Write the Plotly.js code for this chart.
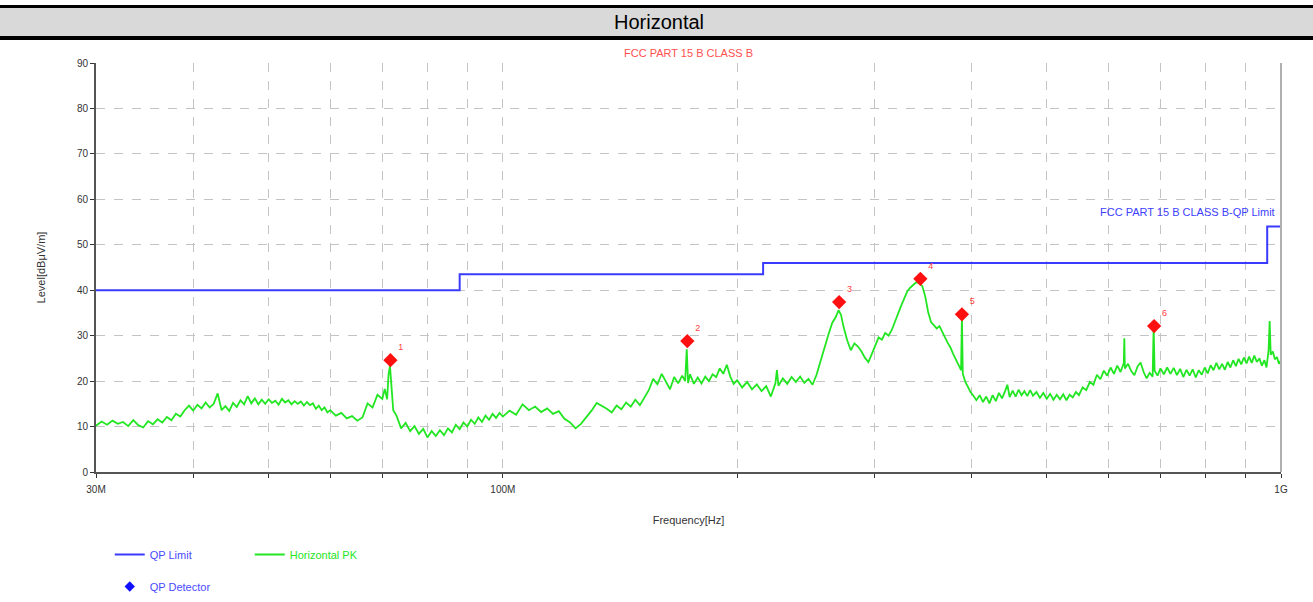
<!DOCTYPE html>
<html>
<head>
<meta charset="utf-8">
<script src="https://cdn.plot.ly/plotly-3.0.1.min.js"></script>
<style>
html,body{margin:0;padding:0;background:#fff;}
#chart{width:1313px;height:602px;}
</style>
</head>
<body>
<div id="chart"></div>
<script>
// Frequencies in MHz
const pkFreq = [
30.0,30.5,31.0,31.5,32.0,32.5,33.0,33.5,34.0,34.5,35.0,35.5,36.0,36.5,37.0,37.5,38.0,38.5,39.0,39.5,
40.0,40.5,41.0,41.5,42.0,42.5,43.0,43.5,44.0,44.5,45.0,45.5,46.0,46.5,47.0,47.5,48.0,48.5,49.0,49.5,
50.0,50.5,51.0,51.5,52.0,52.5,53.0,53.5,54.0,54.5,55.0,55.5,56.0,56.5,57.0,57.5,58.0,58.5,59.0,59.5,60.0,
61,62,63,64,65,66,67,68,69,70,70.5,71.0,71.3,71.6,71.9,72.3,73,74,75,76,77,78,79,80,81,82,83,84,85,86,87,88,89,90,
91,92,93,94,95,96,97,98,99,100,
102,104,106,108,110,112,114,116,118,120,122,124,126,128,130,132,134,136,138,140,142,144,146,148,150,
152,154,156,158,160,162,164,166,168,170,171.5,172.3,173,174,176,178,180,182,184,186,188,190,192,194,196,198,200,
203,206,209,212,215,218,221,224,225,226,229,232,235,238,241,244,247,250,253,256,259,262,265,268,270,272,274,277,280,
283,286,289,292,295,298,301,304,307,310,313,316,319,322,325,328,331,334,337,340,343,346,349,352,355,358,361,364,367,
370,373,376,379,382,385,388,389,390,393,396,399,402,
406,410,414,418,422,426,430,434,438,442,445,448,452,456,460,464,468,472,476,480,485,490,495,500,505,510,515,520,525,
530,535,540,545,550,556,562,568,574,580,586,592,598,604,610,616,622,628,629,630,636,642,648,654,660,666,672,678,684,
686,688,694,700,707,714,721,728,735,742,749,756,763,770,777,784,791,798,805,812,819,826,833,840,847,854,861,868,875,
882,889,896,903,910,917,924,931,938,945,952,958,964,967,970,976,982,988,994,1000
];
// Level in dBuV/m (Horizontal PK)
const pkLevel = [
10.2,11.1,10.4,11.3,10.6,11.0,10.1,11.4,10.3,9.8,11.2,10.5,11.6,10.9,12.1,11.4,12.8,12.2,13.6,14.6,
13.5,14.8,14.0,15.3,14.2,15.0,17.3,13.6,14.5,13.4,15.2,14.3,15.8,14.9,16.7,15.1,16.2,14.9,15.9,15.0,
16.0,15.2,15.7,14.8,16.1,15.3,15.8,14.9,15.6,15.0,15.5,14.6,15.4,14.7,15.1,13.9,14.6,13.6,14.2,13.1,13.6,
12.4,13.0,11.8,12.3,11.3,12.0,15.1,14.2,17.0,16.1,18.3,16.0,21.5,23.3,19.0,13.6,12.4,9.6,10.8,9.0,10.1,8.4,9.5,7.6,9.0,7.9,9.2,8.1,9.6,8.7,10.4,9.4,10.9,10.0,
11.5,10.6,12.0,11.0,12.4,11.5,12.8,11.9,13.0,12.2,
13.5,12.6,14.9,13.6,14.4,13.2,14.0,12.8,13.4,11.7,10.9,9.6,10.6,12.0,13.5,15.2,14.6,13.9,13.1,14.6,13.8,15.3,14.4,15.9,14.7,
16.5,18.0,20.5,19.3,21.6,19.8,18.2,20.9,19.5,21.2,20.0,27.0,19.6,21.5,19.4,20.8,19.5,21.0,20.0,21.5,20.9,22.8,21.6,23.6,21.0,19.4,20.2,
18.6,19.8,18.2,19.3,17.8,18.9,16.6,19.5,22.4,19.0,20.6,19.4,20.9,19.8,21.0,19.6,20.5,19.2,21.4,24.5,27.6,30.2,32.8,34.2,35.6,34.6,32.0,29.0,26.8,
28.3,27.6,26.5,25.1,24.2,26.0,27.9,29.6,29.1,30.6,30.0,31.2,33.0,35.0,36.6,38.2,39.8,40.6,41.2,41.8,41.5,40.9,38.6,35.2,33.0,32.4,31.6,32.1,31.0,
29.6,28.4,27.4,26.0,24.8,23.6,22.4,34.2,21.6,19.8,18.5,17.6,16.9,
15.8,16.9,15.4,16.6,15.1,16.9,15.6,17.4,16.2,17.8,19.2,16.5,17.9,16.6,18.1,16.9,17.8,16.7,18.0,16.8,17.6,16.3,17.4,16.1,17.2,15.9,17.0,16.0,17.1,
15.8,17.0,16.4,17.6,16.9,18.6,18.0,19.8,19.2,21.4,20.4,22.3,21.2,23.0,21.6,23.4,22.0,24.0,29.4,22.8,23.8,22.2,21.3,23.2,24.1,22.0,20.6,21.8,21.0,
32.0,22.3,21.2,22.8,21.5,23.0,21.6,22.9,21.3,22.7,20.9,22.5,21.2,22.6,20.8,22.4,21.4,23.0,21.7,23.5,22.4,24.0,22.6,23.8,22.5,24.2,23.0,24.6,23.3,
24.9,23.7,25.2,23.9,25.4,24.0,25.6,24.2,25.0,23.4,24.6,23.0,26.8,33.2,25.8,26.5,24.8,25.3,23.8,24.6
];
// QP limit (step)
const limitFreq = [30, 88, 216, 960, 1000];
const limitLevel = [40, 43.5, 46, 54, 54];
// QP detector points
const qpFreq = [71.7, 172.6, 270.5, 344, 389, 687];
const qpLevel = [24.6, 28.8, 37.4, 42.5, 34.7, 32.1];
const qpLabels = ['1','2','3','4','5','6'];
// Axis ticks
const xTickVals = [30,40,50,60,70,80,90,100,200,300,400,500,600,700,800,900,1000];
const xTickText = ['30M','','','','','','','100M','','','','','','','','','1G'];
const yTickVals = [0,10,20,30,40,50,60,70,80,90];

const FONT = 'Liberation Sans, Arial, sans-serif';

const traces = [
  {
    x: limitFreq, y: limitLevel, type: 'scatter', mode: 'lines',
    line: {color: '#3b3bff', width: 2, shape: 'hv'},
    name: 'QP Limit', legend: 'legend', hoverinfo: 'skip'
  },
  {
    x: pkFreq, y: pkLevel, type: 'scatter', mode: 'lines',
    line: {color: '#22e622', width: 1.8},
    name: '<span style="color:#22e622">Horizontal PK</span>', legend: 'legend'
  },
  {
    x: qpFreq, y: qpLevel, type: 'scatter', mode: 'markers+text',
    marker: {symbol: 'diamond', size: 11, color: '#ff1010'},
    text: qpLabels, textposition: 'top right',
    textfont: {family: FONT, size: 9, color: '#ff4040'},
    showlegend: false, name: 'QP'
  },
  {
    x: [null], y: [null], type: 'scatter', mode: 'markers',
    marker: {symbol: 'diamond', size: 8, color: '#1010ff'},
    name: 'QP Detector', legend: 'legend2'
  }
];

const layout = {
  width: 1313, height: 602,
  paper_bgcolor: '#ffffff', plot_bgcolor: '#ffffff',
  margin: {l: 96, r: 32, t: 63, b: 130},
  font: {family: FONT, size: 10, color: '#333'},
  title: {
    text: 'FCC PART 15 B CLASS B',
    font: {family: FONT, size: 11, color: '#ff5050'},
    x: 0.5, xref: 'paper', y: 0.912, yref: 'container', yanchor: 'middle', automargin: false
  },
  xaxis: {
    type: 'log', range: [Math.log10(30), Math.log10(1000)],
    tickmode: 'array', tickvals: xTickVals, ticktext: xTickText,
    showgrid: true, gridcolor: '#c4c4c4', griddash: 'dash', gridwidth: 1,
    showline: true, linecolor: '#555', linewidth: 2,
    ticks: 'outside', ticklen: 4, tickcolor: '#333', ticklabelstandoff: 3,
    tickfont: {family: FONT, size: 10, color: '#333'},
    zeroline: false, automargin: false,
    title: {text: 'Frequency[Hz]', font: {family: FONT, size: 11, color: '#333'}, standoff: 22}
  },
  yaxis: {
    range: [0, 90], tickmode: 'array', tickvals: yTickVals,
    showgrid: true, gridcolor: '#c4c4c4', griddash: 'dash', gridwidth: 1,
    showline: true, linecolor: '#555', linewidth: 2,
    ticks: 'outside', ticklen: 4, tickcolor: '#333',
    tickfont: {family: FONT, size: 10, color: '#333'},
    zeroline: false, automargin: false,
    title: {text: 'Level[dBμV/m]', font: {family: FONT, size: 11, color: '#333'}, standoff: 29}
  },
  legend: {
    orientation: 'h', x: 0.0116, xanchor: 'left', xref: 'paper',
    y: 0.1030, yanchor: 'top', yref: 'container',
    entrywidth: 95, entrywidthmode: 'pixels',
    font: {family: FONT, size: 11, color: '#4a4aff'},
    bgcolor: 'rgba(0,0,0,0)'
  },
  legend2: {
    orientation: 'h', x: 0.0116, xanchor: 'left', xref: 'paper',
    y: 0.0498, yanchor: 'top', yref: 'container',
    font: {family: FONT, size: 11, color: '#4a4aff'},
    bgcolor: 'rgba(0,0,0,0)'
  },
  shapes: [
    {type: 'rect', xref: 'paper', yref: 'paper', x0: -0.09, x1: 1.04, y0: 1.0660, y1: 1.1345,
     fillcolor: '#d9d9d9', line: {width: 0}, layer: 'below'},
    {type: 'line', xref: 'paper', yref: 'paper', x0: -0.09, x1: 1.04, y0: 1.1382, y1: 1.1382,
     line: {color: '#000', width: 3}},
    {type: 'line', xref: 'paper', yref: 'paper', x0: -0.09, x1: 1.04, y0: 1.0611, y1: 1.0611,
     line: {color: '#000', width: 4}},
    {type: 'line', xref: 'paper', yref: 'paper', x0: 1, x1: 1, y0: 0, y1: 1,
     line: {color: '#b0b0b0', width: 2}}
  ],
  annotations: [
    {text: 'Horizontal', xref: 'paper', yref: 'paper', x: 0.4755, y: 1.1003,
     xanchor: 'center', yanchor: 'middle', showarrow: false,
     font: {family: FONT, size: 20, color: '#000'}},
    {text: 'FCC PART 15 B CLASS B-QP Limit', xref: 'paper', yref: 'y', x: 0.9966, y: 57.2,
     xanchor: 'right', yanchor: 'middle', showarrow: false,
     font: {family: FONT, size: 11, color: '#4040ff'}}
  ],
  showlegend: true
};

Plotly.newPlot('chart', traces, layout, {displayModeBar: false, responsive: false});
</script>
</body>
</html>
